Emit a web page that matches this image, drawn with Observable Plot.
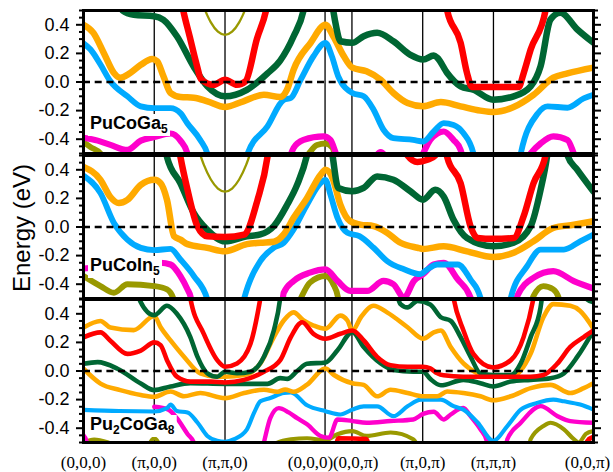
<!DOCTYPE html>
<html><head><meta charset="utf-8">
<script src="https://cdn.jsdelivr.net/npm/d3@7"></script>
<script src="https://cdn.jsdelivr.net/npm/@observablehq/plot@0.6"></script>
<style>
body{margin:0;background:#fff;}
#chart{position:relative;width:613px;height:472px;overflow:hidden;background:#fff;}
#chart svg{position:absolute;left:0;}
#ytitle{position:absolute;left:22px;top:228px;transform:translate(-50%,-50%) rotate(-90deg);font-family:"Liberation Sans",Arial,sans-serif;font-size:24px;white-space:nowrap;color:#000;}
</style></head><body><div id="chart"><div id="ytitle">Energy (eV)</div></div>
<script>
// k-path
const kTicks = [0, 1, 2, 3.414, 3.794, 4.794, 5.794, 7.208];
const kLabels = ["(0,0,0)", "(π,0,0)", "(π,π,0)", "(0,0,0)", "(0,0,π)", "(π,0,π)", "(π,π,π)", "(0,0,π)"];
const yMajor = [-0.4, -0.2, 0, 0.2, 0.4];
const yMinor = [-0.5,-0.45,-0.35,-0.3,-0.25,-0.15,-0.1,-0.05,0.05,0.1,0.15,0.25,0.3,0.35,0.45,0.5];

// panel names (odd index = subscript)
const ga5Name = ["PuCoGa", "5"];
const in5Name = ["PuCoIn", "5"];
const ga8Name = ["Pu", "2", "CoGa", "8"];

// ---------- PuCoGa5 ----------
const ga5Olive = [
 [[0,-0.42],[0.1,-0.455],[0.24,-0.5],[0.3,-0.55]],
 [[3.12,-0.55],[3.2,-0.49],[3.3,-0.44],[3.42,-0.43],[3.52,-0.46],[3.56,-0.55]]
];
const ga5OliveThin = [
 [[1.68,0.55],[1.75,0.466],[1.8,0.417],[1.9,0.352],[2,0.33],[2.1,0.352],[2.2,0.417],[2.25,0.466],[2.32,0.55]]
];
const ga5Magenta = [
 [[0,-0.39],[0.2,-0.41],[0.38,-0.44],[0.62,-0.475],[0.81,-0.41],[1,-0.385],[1.23,-0.36],[1.37,-0.41],[1.47,-0.5],[1.5,-0.56]],
 [[2.9,-0.55],[2.97,-0.46],[3.11,-0.405],[3.39,-0.38],[3.49,-0.405],[3.56,-0.49],[3.6,-0.55]],
 [[4.1,-0.55],[4.2,-0.49],[4.3,-0.55]],
 [[4.75,-0.55],[4.8,-0.5],[4.9,-0.405],[5.0,-0.36],[5.09,-0.346],[5.23,-0.405],[5.33,-0.475],[5.37,-0.55]],
 [[6.25,-0.55],[6.32,-0.5],[6.46,-0.43],[6.64,-0.38],[6.84,-0.405],[6.93,-0.5],[6.97,-0.55]]
];
const ga5Blue = [
 [[0,0.27],[0.1,0.227],[0.24,0.122],[0.38,0.005],[0.62,-0.1],[0.81,-0.17],[1,-0.183],[1.23,-0.183],[1.37,-0.218],[1.47,-0.29],[1.65,-0.405],[1.75,-0.5],[1.8,-0.6]],
 [[2.27,-0.6],[2.32,-0.5],[2.6,-0.31],[2.83,-0.125],[2.93,-0.112],[3.07,0.016],[3.25,0.18],[3.42,0.274],[3.51,0.18],[3.6,0.04],[3.8,-0.077],[3.96,-0.1],[4.1,-0.194],[4.24,-0.334],[4.38,-0.393],[4.66,-0.405],[4.8,-0.416],[4.95,-0.346],[5.09,-0.288],[5.23,-0.3],[5.37,-0.358],[5.51,-0.498],[5.55,-0.6]],
 [[6.14,-0.6],[6.18,-0.5],[6.42,-0.22],[6.56,-0.17],[6.84,-0.18],[7.07,-0.115],[7.208,-0.09]]
];
const ga5Orange = [
 [[0,0.40],[0.14,0.344],[0.29,0.2],[0.43,0.063],[0.52,0.03],[0.66,0.063],[0.81,0.12],[0.97,0.16],[1.04,0.145],[1.13,0.04],[1.23,-0.077],[1.37,-0.105],[1.56,-0.11],[1.75,-0.135],[2,-0.175],[2.26,-0.135],[2.55,-0.089],[2.78,-0.105],[2.88,-0.05],[2.97,0.087],[3.21,0.274],[3.42,0.40],[3.53,0.32],[3.68,0.18],[3.8,0.1],[4.0,0.075],[4.2,0.016],[4.38,-0.077],[4.58,-0.147],[4.8,-0.17],[5.05,-0.14],[5.33,-0.17],[5.61,-0.2],[5.79,-0.21],[6.08,-0.175],[6.36,-0.09],[6.64,0.03],[6.84,0.06],[7.208,0.10]]
];
const ga5Green = [
 [[0.5,0.6],[0.55,0.5],[0.71,0.47],[1,0.46],[1.13,0.435],[1.32,0.32],[1.56,0.105],[1.75,-0.03],[2,-0.1],[2.31,-0.055],[2.6,0.06],[2.78,0.15],[2.97,0.32],[3.11,0.5],[3.15,0.6]],
 [[3.5,0.6],[3.53,0.5],[3.57,0.39],[3.63,0.285],[3.8,0.274],[3.96,0.32],[4.15,0.344],[4.38,0.285],[4.62,0.19],[4.8,0.157],[4.95,0.185],[5.0,0.17],[5.14,0.063],[5.33,-0.03],[5.51,-0.054],[5.79,-0.124],[6.08,-0.1],[6.32,-0.03],[6.46,0.11],[6.6,0.437],[6.74,0.484],[6.98,0.367],[7.208,0.274]]
];
const ga5Red = [
 [[1.37,0.6],[1.41,0.5],[1.5,0.32],[1.6,0.12],[1.66,0.02],[1.84,-0.02],[2,0.016],[2.17,-0.02],[2.29,0.005],[2.45,0.3],[2.58,0.5],[2.62,0.6]],
 [[5.1,0.6],[5.14,0.5],[5.33,0.274],[5.42,0.063],[5.49,-0.035],[5.79,-0.035],[6.15,-0.035],[6.22,0.06],[6.32,0.227],[6.53,0.5],[6.56,0.6]]
];

// ---------- PuCoIn5 ----------
const in5Olive = [
 [[0,-0.343],[0.24,-0.413],[0.43,-0.46],[0.62,-0.4],[1,-0.413],[1.18,-0.436],[1.27,-0.5],[1.3,-0.6]],
 [[2.98,-0.6],[3.07,-0.5],[3.2,-0.389],[3.42,-0.343],[3.53,-0.4],[3.6,-0.5],[3.62,-0.6]],
 [[6.3,-0.6],[6.36,-0.483],[6.5,-0.413],[6.64,-0.436],[6.72,-0.5],[6.75,-0.6]]
];
const in5OliveThin = [
 [[1.62,0.55],[1.7,0.436],[1.8,0.332],[1.9,0.269],[2,0.248],[2.1,0.269],[2.2,0.332],[2.3,0.436],[2.38,0.55]]
];
const in5Magenta = [
 [[0,-0.29],[0.5,-0.27],[1.09,-0.25],[1.23,-0.262],[1.37,-0.343],[1.47,-0.436],[1.52,-0.5],[1.55,-0.6]],
 [[2.8,-0.6],[2.83,-0.46],[2.97,-0.377],[3.2,-0.319],[3.42,-0.296],[3.59,-0.377],[3.77,-0.447],[4.01,-0.447],[4.24,-0.377],[4.38,-0.4],[4.53,-0.493],[4.67,-0.377],[4.8,-0.33],[4.95,-0.262],[5.09,-0.25],[5.29,-0.367],[5.47,-0.494],[5.5,-0.6]],
 [[6.1,-0.6],[6.13,-0.483],[6.36,-0.355],[6.64,-0.309],[6.93,-0.378],[7.208,-0.43]]
];
const in5Blue = [
 [[0,0.36],[0.24,0.237],[0.43,0.028],[0.62,-0.088],[0.81,-0.146],[1,-0.162],[1.23,-0.153],[1.37,-0.227],[1.56,-0.343],[1.75,-0.506],[1.8,-0.6]],
 [[2.22,-0.6],[2.27,-0.5],[2.5,-0.238],[2.69,-0.145],[2.83,-0.11],[2.97,-0.017],[3.16,0.157],[3.35,0.307],[3.42,0.33],[3.49,0.226],[3.59,0.064],[3.73,-0.04],[3.9,-0.064],[4.1,-0.145],[4.29,-0.238],[4.53,-0.296],[4.76,-0.33],[4.85,-0.3],[5.0,-0.262],[5.29,-0.262],[5.47,-0.367],[5.61,-0.494],[5.65,-0.6]],
 [[6.0,-0.6],[6.04,-0.494],[6.27,-0.274],[6.46,-0.158],[6.79,-0.158],[7.02,-0.1],[7.208,-0.053]]
];
const in5Orange = [
 [[0,0.42],[0.24,0.33],[0.38,0.21],[0.5,0.167],[0.62,0.19],[0.81,0.295],[1,0.33],[1.09,0.306],[1.18,0.19],[1.28,-0.065],[1.37,-0.088],[1.47,-0.12],[1.75,-0.146],[2,-0.17],[2.31,-0.12],[2.5,-0.11],[2.69,-0.103],[2.83,-0.052],[2.97,0.064],[3.16,0.203],[3.35,0.365],[3.42,0.4],[3.52,0.342],[3.63,0.157],[3.77,0.04],[3.91,0.017],[4.1,0.006],[4.29,-0.04],[4.48,-0.11],[4.72,-0.145],[4.8,-0.153],[5.09,-0.135],[5.42,-0.17],[5.79,-0.21],[6.08,-0.18],[6.36,-0.1],[6.64,-0.007],[6.93,0.016],[7.208,0.04]]
];
const in5Green = [
 [[1.15,0.6],[1.18,0.49],[1.37,0.306],[1.56,0.097],[1.75,-0.02],[2,-0.1],[2.31,-0.065],[2.5,-0.052],[2.69,0.006],[2.88,0.157],[3.02,0.296],[3.16,0.505],[3.2,0.6]],
 [[3.49,0.6],[3.52,0.5],[3.6,0.273],[3.8,0.25],[3.96,0.273],[4.15,0.354],[4.38,0.331],[4.62,0.25],[4.8,0.191],[4.97,0.26],[5.09,0.213],[5.23,0.05],[5.42,-0.077],[5.79,-0.135],[6.08,-0.11],[6.32,0.005],[6.46,0.26],[6.55,0.49],[6.58,0.6]],
 [[6.8,0.6],[6.84,0.5],[6.98,0.4],[7.208,0.248]]
];
const in5Red = [
 [[1.33,0.6],[1.37,0.49],[1.47,0.26],[1.61,0.005],[1.75,-0.065],[2,-0.07],[2.27,-0.053],[2.46,0.19],[2.6,0.49],[2.63,0.6]],
 [[4.5,0.6],[4.58,0.5],[4.72,0.455],[4.86,0.47],[4.97,0.5],[5.02,0.6]],
 [[5.1,0.6],[5.14,0.49],[5.33,0.306],[5.47,0.005],[5.57,-0.077],[5.79,-0.083],[6.08,-0.077],[6.22,0.074],[6.36,0.306],[6.53,0.5],[6.56,0.6]]
];

// ---------- Pu2CoGa8 ----------
const ga8Olive = [
 [[2.7,-0.6],[2.74,-0.5],[2.93,-0.477],[3.16,-0.47],[3.42,-0.485],[3.59,-0.442],[3.8,-0.42],[4.0,-0.454],[4.34,-0.43],[4.66,-0.477],[4.75,-0.55]],
 [[6.28,-0.6],[6.32,-0.477],[6.5,-0.385],[6.6,-0.362],[6.79,-0.408],[6.93,-0.477],[7.0,-0.5],[7.1,-0.44],[7.208,-0.42]],
 [[0,-0.5],[0.15,-0.48],[0.35,-0.5]],
 [[0.9,-0.55],[1.0,-0.47],[1.1,-0.55]]
];
const ga8Magenta = [
 [[1.0,-0.25],[1.2,-0.27],[1.32,-0.33],[1.47,-0.44],[1.56,-0.5],[1.6,-0.6]],
 [[2.5,-0.6],[2.55,-0.5],[2.64,-0.33],[2.76,-0.26],[2.9,-0.29],[3.02,-0.33],[3.16,-0.373],[3.35,-0.454],[3.47,-0.466],[3.59,-0.339],[3.8,-0.35],[4.0,-0.362],[4.34,-0.35],[4.66,-0.339],[4.8,-0.3],[4.95,-0.285],[5.09,-0.339],[5.19,-0.304],[5.37,-0.258],[5.47,-0.316],[5.61,-0.408],[5.7,-0.488],[5.75,-0.6]],
 [[5.95,-0.6],[5.99,-0.477],[6.18,-0.362],[6.46,-0.246],[6.7,-0.316],[6.88,-0.35],[7.208,-0.362]],
 [[0,-0.45],[0.05,-0.5],[0.08,-0.6]]
];
const ga8Blue = [
 [[0,-0.272],[0.5,-0.28],[1,-0.283],[1.18,-0.26],[1.23,-0.235],[1.32,-0.28],[1.47,-0.29],[1.61,-0.36],[1.75,-0.454],[1.89,-0.488],[2,-0.495],[2.13,-0.477],[2.31,-0.408],[2.41,-0.293],[2.5,-0.212],[2.64,-0.189],[2.83,-0.154],[2.93,-0.15],[3.16,-0.24],[3.42,-0.281],[3.63,-0.304],[3.8,-0.27],[3.96,-0.247],[4.15,-0.247],[4.38,-0.316],[4.58,-0.247],[4.77,-0.2],[5.05,-0.2],[5.23,-0.246],[5.37,-0.27],[5.57,-0.36],[5.79,-0.488],[5.99,-0.385],[6.18,-0.27],[6.41,-0.223],[6.64,-0.2],[6.79,-0.212],[7.02,-0.235],[7.208,-0.27]]
];
const ga8Orange = [
 [[0,0.304],[0.24,0.35],[0.38,0.304],[0.71,0.286],[1,0.385],[1.09,0.306],[1.23,0.214],[1.42,0.1],[1.65,-0.016],[1.89,-0.04],[2,-0.04],[2.27,-0.028],[2.5,0.053],[2.69,0.237],[2.83,0.353],[2.97,0.41],[3.11,0.353],[3.25,0.318],[3.42,0.295],[3.63,0.387],[3.73,0.353],[3.8,0.283],[3.92,0.376],[4.1,0.456],[4.29,0.41],[4.58,0.306],[4.8,0.226],[4.95,0.27],[5.05,0.283],[5.19,0.168],[5.37,0.053],[5.57,-0.016],[5.79,-0.04],[6.04,-0.04],[6.32,0.122],[6.5,0.376],[6.64,0.468],[6.88,0.456],[7.02,0.42],[7.208,0.295]],
 [[0,0.016],[0.24,-0.088],[0.52,-0.134],[0.81,-0.168],[1,-0.18],[1.23,-0.143],[1.42,-0.177],[1.65,-0.154],[2,-0.19],[2.27,-0.154],[2.55,-0.131],[2.74,-0.145],[2.85,-0.13],[2.97,-0.145],[3.16,-0.095],[3.42,0.018],[3.54,-0.028],[3.8,-0.085],[3.96,-0.097],[4.15,-0.177],[4.34,-0.131],[4.58,-0.154],[4.8,-0.177],[5.0,-0.177],[5.14,-0.143],[5.37,-0.154],[5.61,-0.177],[5.79,-0.205],[6.04,-0.177],[6.32,-0.12],[6.6,-0.097],[6.88,-0.154],[7.07,-0.12],[7.208,-0.085]]
];
const ga8Green = [
 [[0.75,0.6],[0.8,0.49],[1,0.39],[1.18,0.456],[1.32,0.4],[1.51,0.237],[1.61,0.1],[1.75,-0.016],[1.89,-0.04],[2,-0.005],[2.17,-0.016],[2.36,-0.005],[2.55,0.1],[2.69,0.283],[2.78,0.51],[2.8,0.6]],
 [[0,0.05],[0.2,0.062],[0.48,0.016],[0.81,-0.088],[1,-0.134],[1.23,-0.108],[1.51,-0.085],[2,-0.09],[2.36,-0.09],[2.6,-0.09],[2.78,-0.05],[2.88,-0.055],[3.02,0.0],[3.16,0.05],[3.42,0.06],[3.59,0.145],[3.8,0.272],[3.96,0.168],[4.2,0.053],[4.38,0.007],[4.66,-0.005],[4.8,-0.005],[4.9,-0.055],[5.05,-0.1],[5.37,-0.062],[5.61,-0.085],[5.79,-0.108],[6.04,-0.074],[6.32,-0.062],[6.6,-0.05],[6.79,-0.016],[6.98,0.1],[7.208,0.283]],
 [[4.4,0.6],[4.48,0.468],[4.58,0.445],[4.72,0.49],[4.9,0.465],[5.05,0.376],[5.19,0.35],[5.33,0.237],[5.47,0.1],[5.61,-0.016],[5.79,-0.028],[6.04,-0.028],[6.18,0.053],[6.32,0.237],[6.46,0.445],[6.5,0.6]],
 [[7.05,0.6],[7.12,0.5],[7.208,0.48]]
];
const ga8Red = [
 [[1.48,0.6],[1.51,0.51],[1.7,0.26],[1.89,0.076],[2,0.03],[2.17,0.053],[2.36,0.19],[2.5,0.51],[2.53,0.6]],
 [[0,0.235],[0.24,0.27],[0.38,0.212],[0.62,0.12],[0.81,0.143],[1,0.2],[1.09,0.18],[1.18,0.076],[1.32,-0.04],[1.51,-0.074],[1.8,-0.074],[2,-0.08],[2.27,-0.062],[2.55,-0.005],[2.78,0.076],[2.93,0.237],[3.09,0.341],[3.25,0.26],[3.42,0.226],[3.63,0.26],[3.8,0.283],[3.96,0.214],[4.15,0.099],[4.34,0.041],[4.58,0.03],[4.8,0.03],[4.9,0.018],[5.0,-0.016],[5.09,-0.03],[5.37,-0.04],[5.79,-0.04],[6.32,-0.04],[6.5,-0.028],[6.7,0.053],[6.88,0.168],[7.07,0.237],[7.208,0.283]],
 [[5.2,0.6],[5.23,0.51],[5.37,0.283],[5.51,0.12],[5.79,0.025],[6.04,0.076],[6.22,0.237],[6.36,0.51],[6.39,0.6]],
 [[3.55,-0.6],[3.6,-0.47],[4.0,-0.475],[4.05,-0.6]],
 [[7.05,-0.6],[7.12,-0.49],[7.208,-0.46]]
];

const C = {green:"#006633", red:"#ff0000", orange:"#ffaa00", blue:"#00aaff", magenta:"#ff00cc", olive:"#999900"};

const fmt = d => (d < 0 ? "-" : "") + Math.abs(d).toFixed(1);
const SANS = "Liberation Sans, Arial, sans-serif";
const SERIF = "Liberation Serif, Times New Roman, serif";

function makePanel({bands, height, mt, mb, xLabels}) {
  const marks = [
    Plot.ruleX(kTicks.slice(1, -1), {stroke: "black", strokeWidth: 1.3})
  ];
  for (const b of bands) {
    for (const seg of b.data) {
      marks.push(Plot.line(seg, {x: d => d[0], y: d => d[1], stroke: b.color, strokeWidth: b.width, curve: "monotone-x", clip: true}));
    }
  }
  marks.push(Plot.ruleY([0], {stroke: "black", strokeWidth: 2.6, strokeDasharray: "7,4.7"}));
  marks.push(Plot.frame({stroke: "black", strokeWidth: 3}));
  marks.push(Plot.axisY({anchor: "left", ticks: yMajor, tickSize: 7, tickPadding: 7, tickFormat: fmt, label: null, strokeWidth: 2, fontSize: 18, fontFamily: SANS}));
  marks.push(Plot.axisY({anchor: "left", ticks: yMinor, tickSize: 4, tickFormat: () => "", label: null, strokeWidth: 2}));
  marks.push(Plot.axisY({anchor: "right", ticks: yMajor, tickSize: 7, tickFormat: () => "", label: null, strokeWidth: 2}));
  marks.push(Plot.axisY({anchor: "right", ticks: yMinor, tickSize: 4, tickFormat: () => "", label: null, strokeWidth: 2}));
  if (xLabels) {
    const rows = kTicks.map((k, i) => ({k, label: kLabels[i], i}));
    const common = {x: "k", text: "label", frameAnchor: "bottom", dy: 20, fontSize: 17, fontFamily: SERIF, lineAnchor: "middle", fill: "black"};
    marks.push(Plot.text(rows.filter(d => ![3, 4, 7].includes(d.i)), common));
    marks.push(Plot.text(rows.filter(d => d.i === 3), {...common, textAnchor: "end", dx: 8}));
    marks.push(Plot.text(rows.filter(d => d.i === 4), {...common, textAnchor: "start", dx: -19}));
    marks.push(Plot.text(rows.filter(d => d.i === 7), {...common, dx: -6}));
  }
  return Plot.plot({
    width: 613, height, marginLeft: 83, marginRight: 20, marginTop: mt, marginBottom: mb,
    x: {domain: [0, 7.208], axis: null},
    y: {domain: [-0.5, 0.5], axis: null},
    style: {background: "transparent", fontFamily: SANS, fontSize: "18px", overflow: "visible", color: "black"},
    marks
  });
}

function bandsOf(olive, oliveThin, magenta, blue, orange, green, red, w) {
  return [
    {data: olive, color: C.olive, width: w * 0.9},
    {data: oliveThin, color: C.olive, width: 2.3},
    {data: magenta, color: C.magenta, width: w * 0.95},
    {data: blue, color: C.blue, width: w * 0.9},
    {data: orange, color: C.orange, width: w},
    {data: green, color: C.green, width: w},
    {data: red, color: C.red, width: w}
  ];
}

function addLabel(svg, parts, x, y) {
  const g = d3.select(svg).append("g");
  const rect = g.append("rect").attr("fill", "white");
  const t = g.append("text").attr("x", x).attr("y", y).attr("text-anchor", "start")
    .attr("font-family", SANS).attr("font-weight", "bold").attr("font-size", 18).attr("fill", "black");
  parts.forEach((p, i) => {
    const sub = i % 2 === 1;
    t.append("tspan").attr("font-size", sub ? 12 : 18).attr("dy", sub ? 4 : (i > 0 ? -4 : 0)).text(p);
  });
  const bb = t.node().getBBox();
  rect.attr("x", bb.x - 2).attr("y", bb.y + 1).attr("width", bb.width + 4).attr("height", bb.height - 1);
}

const chart = document.getElementById("chart");
const panels = [
  {bands: bandsOf(ga5Olive, ga5OliveThin, ga5Magenta, ga5Blue, ga5Orange, ga5Green, ga5Red, 6.5), top: 0, height: 156, mt: 10, mb: 3, name: ga5Name, ly: 129},
  {bands: bandsOf(in5Olive, in5OliveThin, in5Magenta, in5Blue, in5Orange, in5Green, in5Red, 6.5), top: 152, height: 149, mt: 3, mb: 3, name: in5Name, ly: 119},
  {bands: bandsOf(ga8Olive, [], ga8Magenta, ga8Blue, ga8Orange, ga8Green, ga8Red, 4.6), top: 296, height: 176, mt: 3, mb: 30, name: ga8Name, ly: 134, xLabels: true}
];
for (const p of panels) {
  const svg = makePanel(p);
  svg.style.top = p.top + "px";
  chart.appendChild(svg);
  addLabel(svg, p.name, 90, p.ly);
}
</script>
</body></html>
